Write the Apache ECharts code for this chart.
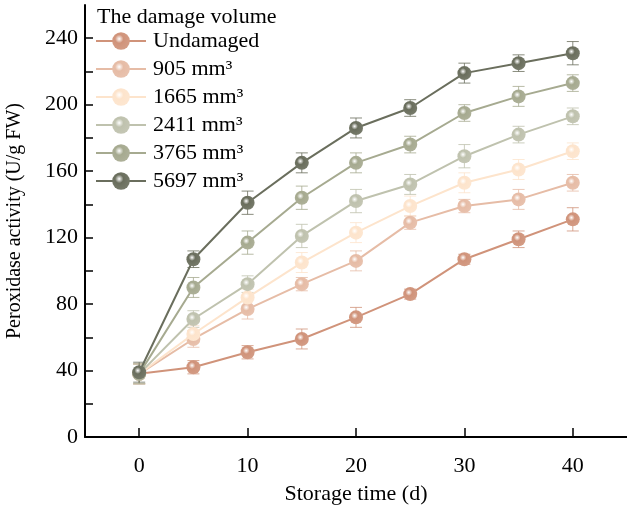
<!DOCTYPE html>
<html>
<head>
<meta charset="utf-8">
<script src="https://cdn.jsdelivr.net/npm/echarts@6/dist/echarts.min.js"></script>
<style>html,body{margin:0;padding:0;background:#fff}#c{width:627px;height:508px}</style>
</head>
<body>
<div id="c"></div>
<script>
const days = [0, 5, 10, 15, 20, 25, 30, 35, 40];
const seriesNames = ['Undamaged', '905 mm³', '1665 mm³', '2411 mm³', '3765 mm³', '5697 mm³'];
const colors = ['#d0937a', '#e6bca6', '#fde4cc', '#bfc2ae', '#a6aa90', '#6a6e5d'];
const vUndamaged = [38, 42, 51, 59, 72, 86, 107, 119, 131];
const v905 = [38, 59, 77, 92, 106, 129, 139, 143, 153];
const v1665 = [38, 62, 84, 105, 123, 139, 153, 161, 172];
const v2411 = [38, 71, 92, 121, 142, 152, 169, 182, 193];
const v3765 = [38, 90, 117, 144, 165, 176, 195, 205, 213];
const v5697 = [39, 107, 141, 165, 186, 198, 219, 225, 231];
const eUndamaged = [6, 4, 4, 6, 6, 3, 3, 5, 7];
const e905 = [6, 5, 6, 4, 6, 4, 4, 6, 5];
const e1665 = [6, 5, 5, 6, 6, 6, 6, 6, 5];
const e2411 = [6, 5, 5, 7, 7, 6, 7, 5, 5];
const e3765 = [6, 6, 7, 7, 6, 5, 5, 6, 5];
const e5697 = [6, 5, 7, 6, 6, 5, 6, 5, 7];
const values = [vUndamaged, v905, v1665, v2411, v3765, v5697];
const errs = [eUndamaged, e905, e1665, e2411, e3765, e5697];

const font = '"Liberation Serif", "Times New Roman", serif';
function ball(c) {
  return {type: 'radial', x: 0.4, y: 0.38, r: 0.6,
    colorStops: [{offset: 0, color: '#ffffff'}, {offset: 0.4, color: c}, {offset: 1, color: echarts.color.lift(c, 0.08)}]};
}
const series = [];
values.forEach((vals, i) => {
  series.push({
    name: seriesNames[i], type: 'line', data: days.map((d, k) => [d, vals[k]]),
    symbol: 'circle', symbolSize: 14, z: 3 + i,
    lineStyle: {color: colors[i], width: 2},
    itemStyle: {color: ball(colors[i])},
    emphasis: {disabled: true}
  });
  series.push({
    name: seriesNames[i] + '_err', type: 'custom', z: 2 + i, silent: true,
    data: days.map((d, k) => [d, vals[k] - errs[i][k], vals[k] + errs[i][k]]),
    renderItem: function (params, api) {
      const x = api.value(0);
      const lo = api.coord([x, api.value(1)]);
      const hi = api.coord([x, api.value(2)]);
      const w = 6;
      const st = {stroke: colors[i], lineWidth: 1, opacity: 0.8};
      return {type: 'group', children: [
        {type: 'line', shape: {x1: lo[0], y1: lo[1], x2: hi[0], y2: hi[1]}, style: st},
        {type: 'line', shape: {x1: lo[0] - w, y1: lo[1], x2: lo[0] + w, y2: lo[1]}, style: st},
        {type: 'line', shape: {x1: hi[0] - w, y1: hi[1], x2: hi[0] + w, y2: hi[1]}, style: st}
      ]};
    }
  });
});

const chart = echarts.init(document.getElementById('c'), null, {renderer: 'canvas'});
chart.setOption({
  animation: false,
  backgroundColor: '#fff',
  textStyle: {fontFamily: font},
  grid: {left: 85, right: 0, top: 5, bottom: 71, containLabel: false, outerBoundsMode: 'none'},
  title: {text: 'The damage volume', left: 92, top: 1,
    textStyle: {fontFamily: font, fontSize: 22, fontWeight: 'normal', color: '#000'}},
  legend: {
    data: seriesNames, orient: 'vertical', left: 90, top: 30, itemGap: 6,
    itemWidth: 50, itemHeight: 22, padding: [0, 5],
    textStyle: {fontFamily: font, fontSize: 22, color: '#000', padding: [0, 0, 0, 2]},
    selectedMode: false
  },
  xAxis: {
    type: 'value', min: -5, max: 45, interval: 10,
    name: 'Storage time (d)', nameLocation: 'middle', nameGap: 46,
    nameTextStyle: {fontFamily: font, fontSize: 22, color: '#000'},
    axisLine: {onZero: false, lineStyle: {color: '#000', width: 2}},
    axisTick: {show: true, inside: true, length: 9, lineStyle: {color: '#000', width: 1.5},
      customValues: [0, 10, 20, 30, 40]},
    minorTick: {show: true, splitNumber: 2, length: 5, lineStyle: {color: '#000', width: 1.5}},
    axisLabel: {fontFamily: font, fontSize: 22, color: '#000', margin: 18,
      customValues: [0, 10, 20, 30, 40]},
    splitLine: {show: false}
  },
  yAxis: {
    type: 'value', min: 0, max: 260, interval: 40,
    name: 'Peroxidase activity (U/g FW)', nameLocation: 'middle', nameGap: 60,
    nameTextStyle: {fontFamily: font, fontSize: 20, color: '#000'},
    axisLine: {show: true, onZero: false, lineStyle: {color: '#000', width: 2}},
    axisTick: {show: true, inside: true, length: 8, lineStyle: {color: '#000', width: 1.5},
      customValues: [0, 40, 80, 120, 160, 200, 240]},
    minorTick: {show: true, splitNumber: 2, length: 8, lineStyle: {color: '#000', width: 1.5}},
    axisLabel: {fontFamily: font, fontSize: 22, color: '#000', margin: 7,
      customValues: [0, 40, 80, 120, 160, 200, 240]},
    splitLine: {show: false}
  },
  series: series
});
</script>
</body>
</html>
